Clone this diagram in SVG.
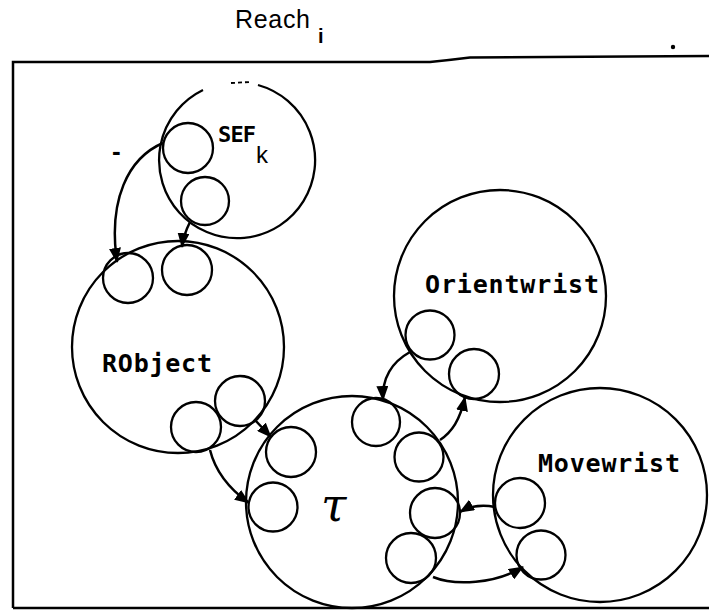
<svg xmlns="http://www.w3.org/2000/svg" width="709" height="611" viewBox="0 0 709 611">
<style>
.c{fill:none;stroke:#000;stroke-width:2.3}
.f{fill:none;stroke:#000;stroke-width:2.5}
.a{fill:none;stroke:#000;stroke-width:2.5;marker-end:url(#ah)}
.lbl{font-family:"DejaVu Sans Mono","Liberation Mono",monospace;font-size:25px;font-weight:bold;fill:#000}
.t{font-family:"Liberation Sans",Arial,sans-serif;fill:#000}
</style>
<defs>
<marker id="ah" viewBox="0 0 15 12" refX="14" refY="6" markerWidth="15" markerHeight="12" markerUnits="userSpaceOnUse" orient="auto">
<path d="M0,0 L15,6 L0,12 z" fill="#000"/>
</marker>
</defs>
<rect width="709" height="611" fill="#fff"/>
<g id="frame">
<path class="f" d="M13,608 L13,62 L430,62 Q450,60 470,57.5 L709,56"/>
<path class="f" d="M13,608 L709,608"/>
<text class="t" x="235" y="28" font-size="25" textLength="75">Reach</text>
<text class="t" x="318" y="43" font-size="20" font-weight="bold">i</text>
<circle cx="673" cy="47" r="2.2" fill="#000"/>
</g>
<g id="sef">
<path class="c" d="M258,85 A78,78 0 1 1 203,90"/>
<path d="M231,83 L250,82" stroke="#000" stroke-width="1.8" stroke-dasharray="4,3"/>
<circle class="c" cx="188" cy="148" r="25"/>
<circle class="c" cx="205" cy="201" r="24"/>
<text class="lbl" x="218" y="142" style="font-size:22px" textLength="38">SEF</text>
<text class="t" x="256" y="163" font-size="24">k</text>
<text class="t" x="112" y="160" font-size="26" font-weight="bold">-</text>
</g>
<g id="robject">
<circle class="c" cx="178" cy="347" r="106"/>
<circle class="c" cx="128" cy="278" r="25"/>
<circle class="c" cx="187" cy="270" r="25"/>
<circle class="c" cx="240" cy="401" r="25"/>
<circle class="c" cx="196" cy="427" r="25"/>
<text class="lbl" x="102" y="372" textLength="110">RObject</text>
</g>
<g id="tau">
<circle class="c" cx="352" cy="502" r="106"/>
<circle class="c" cx="291" cy="452" r="25"/>
<circle class="c" cx="273" cy="507" r="24.5"/>
<circle class="c" cx="376" cy="422" r="24"/>
<circle class="c" cx="419" cy="457" r="24.5"/>
<circle class="c" cx="435" cy="513" r="25"/>
<circle class="c" cx="411" cy="558" r="25"/>
<text x="321" y="521" font-family="DejaVu Serif,serif" font-style="italic" font-size="46" fill="#000">τ</text>
</g>
<g id="orientwrist">
<circle class="c" cx="500" cy="296" r="106"/>
<circle class="c" cx="430" cy="335" r="24.5"/>
<circle class="c" cx="474" cy="374" r="25"/>
<text class="lbl" x="425" y="293" textLength="174">Orientwrist</text>
</g>
<g id="movewrist">
<circle class="c" cx="600" cy="495" r="107"/>
<circle class="c" cx="520" cy="503" r="25"/>
<circle class="c" cx="541" cy="555" r="24.5"/>
<text class="lbl" x="538" y="472" textLength="142">Movewrist</text>
</g>
<g id="connectors">
<path class="a" d="M163,143 C128,158 108,200 117,262"/>
<path class="a" d="M190,222 C186,230 183,238 182,247"/>
<path class="a" d="M255,420 L271,437"/>
<path class="a" d="M210,450 C215,470 228,488 249,503"/>
<path class="a" d="M410,352 C392,362 382,378 383,400"/>
<path class="a" d="M440,440 C452,432 460,420 465,397"/>
<path class="a" d="M495,507 C485,505 472,505 460,512"/>
<path class="a" d="M433,577 C455,586 495,584 523,567"/>
</g>
</svg>
